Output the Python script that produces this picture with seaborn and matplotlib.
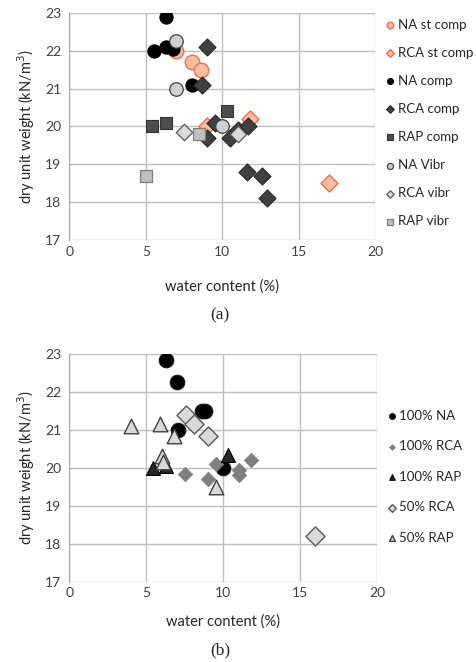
import numpy as np
import matplotlib
matplotlib.use('Agg')
import matplotlib.pyplot as plt
import seaborn as sns

sns.set_style('white')
plt.rcParams['font.family'] = ['Lato', 'DejaVu Sans']

# ---- data, panel (a) ----
na_st_x = [7.0, 8.0, 8.6]
na_st_y = [22.0, 21.7, 21.5]
rca_st_x = [9.0, 11.8, 17.0]
rca_st_y = [20.0, 20.2, 18.5]
na_comp_x = [6.3, 5.5, 6.3, 6.8, 8.0]
na_comp_y = [22.9, 22.0, 22.1, 22.05, 21.1]
rca_comp_x = [9.0, 8.7, 9.5, 9.0, 10.5, 11.0, 11.7, 11.6, 12.6, 12.9]
rca_comp_y = [22.1, 21.1, 20.1, 19.7, 19.7, 19.9, 20.0, 18.8, 18.7, 18.1]
rap_comp_x = [5.4, 6.3, 10.3]
rap_comp_y = [20.0, 20.1, 20.4]
na_vibr_x = [7.0, 7.0, 10.0]
na_vibr_y = [22.25, 21.0, 20.0]
rca_vibr_x = [7.5, 11.0]
rca_vibr_y = [19.85, 19.8]
rap_vibr_x = [8.5, 5.0]
rap_vibr_y = [19.8, 18.7]

# ---- data, panel (b) ----
na100_x = [6.3, 7.0, 8.6, 8.8, 7.05, 10.0]
na100_y = [22.85, 22.25, 21.5, 21.5, 21.0, 20.0]
rca100_x = [7.5, 9.0, 9.5, 11.0, 11.0, 11.8]
rca100_y = [19.85, 19.7, 20.1, 19.95, 19.8, 20.2]
rap100_x = [5.4, 6.3, 10.3]
rap100_y = [20.0, 20.05, 20.35]
rca50_x = [7.6, 8.1, 9.0, 16.0]
rca50_y = [21.4, 21.15, 20.85, 18.2]
rap50_x = [4.0, 5.9, 6.8, 6.0, 6.05, 9.5]
rap50_y = [21.1, 21.15, 20.85, 20.3, 20.15, 19.5]

xticks = [0, 5, 10, 15, 20]
yticks = [17, 18, 19, 20, 21, 22, 23]

fig = plt.figure(figsize=(4.76, 6.62), dpi=100)
ax1 = fig.add_axes([0.146, 0.6375, 0.642, 0.343])
ax2 = fig.add_axes([0.146, 0.1213, 0.646, 0.344])

def style_axes(ax, xpad):
    ax.set_xlim(0, 20)
    ax.set_ylim(17, 23)
    ax.set_xticks(xticks)
    ax.set_yticks(yticks)
    ax.grid(True, color='#BFBFBF', linewidth=1.0)
    ax.set_axisbelow(True)
    for s in ['top', 'right', 'bottom']:
        ax.spines[s].set_visible(False)
    ax.spines['left'].set_color('#A6A6A6')
    ax.tick_params(axis='y', length=3, color='#A6A6A6', labelsize=10, labelcolor='#404040', pad=3)
    ax.tick_params(axis='x', length=0, labelsize=10, labelcolor='#404040', pad=4)
    ax.set_xlabel('water content (%)', fontsize=10.5, color='#262626', labelpad=xpad)
    ax.set_ylabel('dry unit weight (kN/m$^3$)', fontsize=10.5, color='#262626', labelpad=6)

def pts(ax, x, y, marker, fc, ec, s, lw, label):
    sns.scatterplot(x=x, y=y, marker=marker, color=fc, edgecolor=ec, s=s,
                    linewidth=lw, label=label, ax=ax, zorder=3)

# panel (a)
pts(ax1, na_st_x, na_st_y, 'o', '#F9BF98', '#F26B5B', 110, 1.0, 'NA st comp')
pts(ax1, rca_st_x, rca_st_y, 'D', '#F9BF98', '#F26B5B', 75, 1.0, 'RCA st comp')
pts(ax1, na_comp_x, na_comp_y, 'o', '#000000', '#000000', 90, 0.8, 'NA comp')
pts(ax1, rca_comp_x, rca_comp_y, 'D', '#404040', '#262626', 75, 0.8, 'RCA comp')
pts(ax1, rap_comp_x, rap_comp_y, 's', '#4D4D4D', '#333333', 75, 0.8, 'RAP comp')
pts(ax1, na_vibr_x, na_vibr_y, 'o', '#D0D0D0', '#404040', 95, 0.9, 'NA Vibr')
pts(ax1, rca_vibr_x, rca_vibr_y, 'D', '#D9D9D9', '#595959', 70, 0.9, 'RCA vibr')
pts(ax1, rap_vibr_x, rap_vibr_y, 's', '#BFBFBF', '#7F7F7F', 75, 0.9, 'RAP vibr')

# panel (b)
pts(ax2, na100_x, na100_y, 'o', '#000000', '#1A1A1A', 110, 0.8, '100% NA')
pts(ax2, rca100_x, rca100_y, 'D', '#7F7F7F', '#7F7F7F', 55, 0.5, '100% RCA')
pts(ax2, rap100_x, rap100_y, '^', '#262626', '#000000', 100, 0.8, '100% RAP')
pts(ax2, rca50_x, rca50_y, 'D', '#D9D9D9', '#595959', 95, 1.0, '50% RCA')
pts(ax2, rap50_x, rap50_y, '^', '#D9D9D9', '#404040', 110, 1.0, '50% RAP')

style_axes(ax1, 16)
style_axes(ax2, 11)

ax1.legend(loc='upper left', bbox_to_anchor=(1.0, 1.01), frameon=False,
           fontsize=9.5, markerscale=0.45, handletextpad=0.0,
           labelspacing=1.22, borderaxespad=0.2, handlelength=1.1)
ax2.legend(loc='upper left', bbox_to_anchor=(1.0, 0.79), frameon=False,
           fontsize=9.5, markerscale=0.4, handletextpad=0.0,
           labelspacing=1.4, borderaxespad=0.2, handlelength=1.1)

fig.text(0.462, 1 - 315 / 662, '(a)', fontsize=12.5, family='Liberation Serif',
         ha='center', va='center', color='#262626')
fig.text(0.462, 1 - 650 / 662, '(b)', fontsize=12.5, family='Liberation Serif',
         ha='center', va='center', color='#262626')

fig.savefig('out.png', dpi=100)
